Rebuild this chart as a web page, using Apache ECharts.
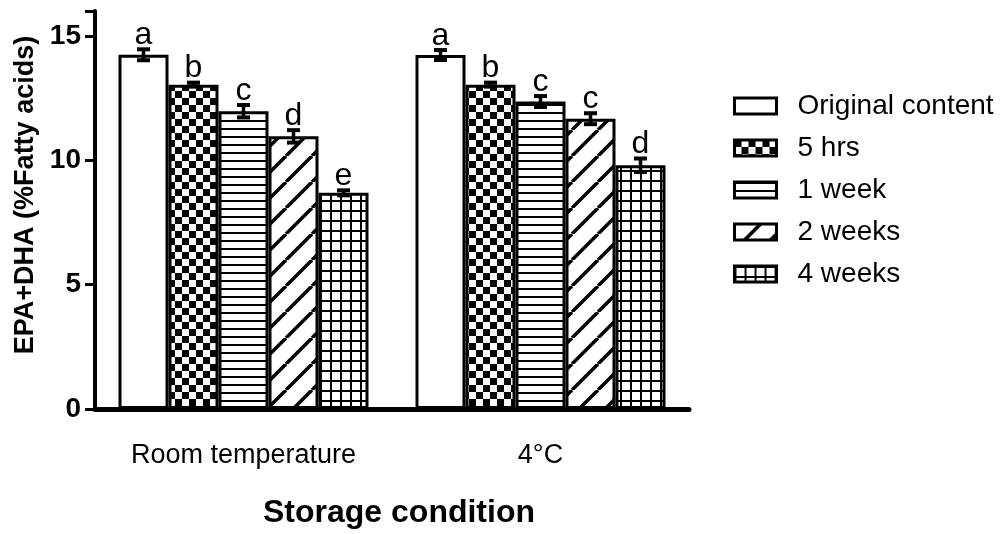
<!DOCTYPE html>
<html>
<head>
<meta charset="utf-8">
<script src="https://cdn.jsdelivr.net/npm/echarts@6/dist/echarts.min.js"></script>
<style>
  html, body { margin: 0; padding: 0; background: #fff; }
  #chart { width: 1007px; height: 534px; }
</style>
</head>
<body>
<div id="chart"></div>
<script>
// Storage conditions on the category axis
const conditions = ['Room temperature', '4°C'];
// Storage periods, one bar series each
const periods = ['Original content', '5 hrs', '1 week', '2 weeks', '4 weeks'];

// Mean EPA+DHA (% of fatty acids) per condition
const originalContent = [14.24, 14.23];
const fiveHours = [13.04, 13.04];
const oneWeek = [11.97, 12.36];
const twoWeeks = [10.96, 11.67];
const fourWeeks = [8.69, 9.80];

// Standard error per condition
const errOriginal = [0.22, 0.20];
const errFiveHours = [0.08, 0.08];
const errOneWeek = [0.25, 0.22];
const errTwoWeeks = [0.25, 0.22];
const errFourWeeks = [0.10, 0.27];

// Significance letters per condition
const lettersOriginal = ['a', 'a'];
const lettersFiveHours = ['b', 'b'];
const lettersOneWeek = ['c', 'c'];
const lettersTwoWeeks = ['d', 'c'];
const lettersFourWeeks = ['e', 'd'];

const yTickValues = [0, 5, 10, 15];

const FONT = 'Liberation Sans, Arial, Helvetica, sans-serif';
const BAR_W = 50;

// Monochrome fill patterns drawn on small tiles
function tile(w, h, draw) {
  const c = document.createElement('canvas');
  c.width = w; c.height = h;
  const g = c.getContext('2d');
  g.fillStyle = '#fff';
  g.fillRect(0, 0, w, h);
  g.fillStyle = '#000';
  g.strokeStyle = '#000';
  draw(g, w, h);
  return { image: c, repeat: 'repeat' };
}

const fills = [
  '#ffffff',
  tile(14, 14, (g) => { g.fillRect(0, 0, 7, 7); g.fillRect(7, 7, 7, 7); }),
  tile(8, 8, (g) => { g.fillRect(0, 0, 8, 2); }),
  tile(26, 26, (g, w, h) => {
    g.lineWidth = 3.5;
    [-w, 0, w].forEach((k) => {
      g.beginPath(); g.moveTo(k, h); g.lineTo(k + w, 0); g.stroke();
    });
  }),
  tile(10, 10, (g) => { g.fillRect(0, 0, 10, 2); g.fillRect(0, 0, 2, 10); })
];

const values = [originalContent, fiveHours, oneWeek, twoWeeks, fourWeeks];
const errors = [errOriginal, errFiveHours, errOneWeek, errTwoWeeks, errFourWeeks];
const letters = [lettersOriginal, lettersFiveHours, lettersOneWeek, lettersTwoWeeks, lettersFourWeeks];

const series = [];
periods.forEach((name, i) => {
  series.push({
    name: name,
    type: 'bar',
    barWidth: BAR_W,
    barGap: '0%',
    data: values[i],
    itemStyle: { color: fills[i], borderColor: '#000', borderWidth: 3 },
    emphasis: { disabled: true }
  });
});

// Error bars with significance letters, one custom series per period
periods.forEach((name, i) => {
  const offset = (i - (periods.length - 1) / 2) * BAR_W;
  series.push({
    name: name + ' SE',
    type: 'custom',
    z: 5,
    silent: true,
    data: values[i].map((v, ci) => [ci, v, errors[i][ci]]),
    renderItem: function (params, api) {
      const ci = api.value(0), v = api.value(1), e = api.value(2);
      const x = api.coord([ci, v])[0] + offset;
      const yTop = api.coord([ci, v + e])[1];
      const yBot = api.coord([ci, v - e])[1];
      const cap = 6.5;
      const stem = { stroke: '#000', lineWidth: 3.5 };
      const capStyle = { stroke: '#000', lineWidth: 4 };
      return {
        type: 'group',
        children: [
          { type: 'line', shape: { x1: x, y1: yTop, x2: x, y2: yBot }, style: stem },
          { type: 'line', shape: { x1: x - cap, y1: yTop, x2: x + cap, y2: yTop }, style: capStyle },
          { type: 'line', shape: { x1: x - cap, y1: yBot, x2: x + cap, y2: yBot }, style: capStyle },
          {
            type: 'text',
            style: {
              text: letters[i][params.dataIndex],
              x: x, y: yTop + 2,
              align: 'center', verticalAlign: 'bottom',
              fontSize: 32, fontFamily: FONT, fill: '#000'
            }
          }
        ]
      };
    }
  });
});

const chart = echarts.init(document.getElementById('chart'), null, { renderer: 'canvas' });
chart.setOption({
  animation: false,
  backgroundColor: '#fff',
  grid: { left: 95, right: 318, top: 11, bottom: 124, containLabel: false },
  legend: {
    orient: 'vertical',
    left: 728,
    top: 87,
    padding: 5,
    icon: 'rect',
    itemWidth: 42,
    itemHeight: 16,
    itemGap: 14,
    selectedMode: false,
    data: periods,
    itemStyle: { borderColor: '#000', borderWidth: 3 },
    textStyle: { fontSize: 28, fontFamily: FONT, color: '#000', padding: [0, 0, 0, 16] }
  },
  xAxis: {
    type: 'category',
    data: conditions,
    axisLine: { lineStyle: { color: '#000', width: 5 } },
    axisTick: { show: false },
    axisLabel: { fontSize: 27, fontFamily: FONT, color: '#000', margin: 33 },
    name: 'Storage condition',
    nameLocation: 'middle',
    nameGap: 88,
    nameTextStyle: { fontSize: 32, fontWeight: 'bold', fontFamily: FONT, color: '#000', padding: [0, 0, 0, 14] }
  },
  yAxis: {
    type: 'value',
    min: 0,
    max: 16,
    interval: 5,
    splitLine: { show: false },
    axisLine: { show: true, lineStyle: { color: '#000', width: 4 } },
    axisTick: { show: true, length: 10, lineStyle: { color: '#000', width: 3 } },
    axisLabel: {
      fontSize: 28, fontWeight: 'bold', fontFamily: FONT, color: '#000', margin: 14,
      formatter: (v) => (yTickValues.indexOf(v) >= 0 ? String(v) : '')
    },
    name: 'EPA+DHA (%Fatty acids)',
    nameLocation: 'middle',
    nameGap: 54,
    nameTextStyle: { fontSize: 27, fontWeight: 'bold', fontFamily: FONT, color: '#000', padding: [0, 0, 0, 30] }
  },
  series: series
});
</script>
</body>
</html>
